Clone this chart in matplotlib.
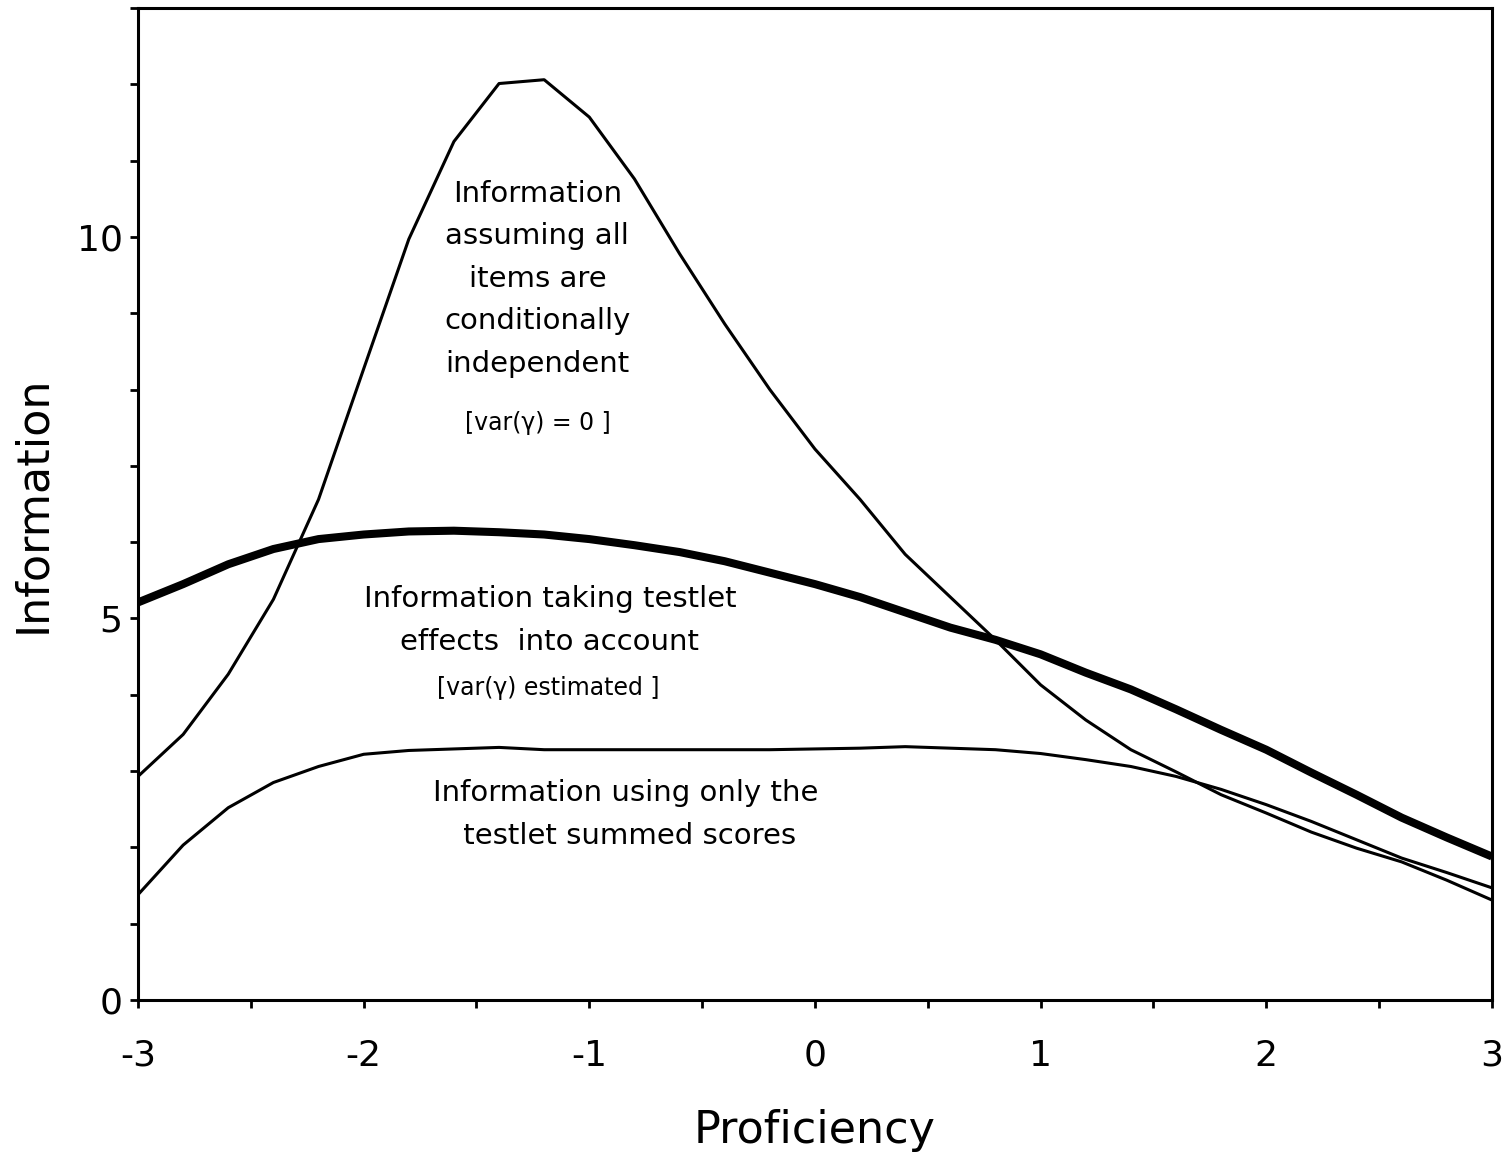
import numpy as np
import matplotlib.pyplot as plt
from matplotlib.ticker import MultipleLocator

plt.rcParams['axes.unicode_minus'] = False

# proficiency grid (step 0.2)
theta = [-3.0, -2.8, -2.6, -2.4, -2.2, -2.0, -1.8, -1.6, -1.4, -1.2, -1.0,
         -0.8, -0.6, -0.4, -0.2, 0.0, 0.2, 0.4, 0.6, 0.8, 1.0,
         1.2, 1.4, 1.6, 1.8, 2.0, 2.2, 2.4, 2.6, 2.8, 3.0]

# information assuming conditional independence, var(gamma)=0
info_indep = [2.93, 3.48, 4.27, 5.25, 6.56, 8.27, 9.97, 11.25, 12.01, 12.06, 11.57,
              10.76, 9.78, 8.86, 8.00, 7.22, 6.56, 5.84, 5.28, 4.72, 4.13,
              3.67, 3.28, 2.99, 2.69, 2.45, 2.20, 1.99, 1.81, 1.57, 1.31]

# information taking testlet effects into account
info_testlet = [5.21, 5.45, 5.71, 5.91, 6.04, 6.10, 6.14, 6.15, 6.13, 6.10, 6.04,
                5.96, 5.87, 5.75, 5.60, 5.45, 5.28, 5.08, 4.88, 4.72, 4.53,
                4.29, 4.07, 3.81, 3.54, 3.28, 2.98, 2.69, 2.39, 2.13, 1.88]

# information from testlet summed scores only
info_summed = [1.38, 2.03, 2.52, 2.85, 3.06, 3.22, 3.27, 3.29, 3.31, 3.28, 3.28,
               3.28, 3.28, 3.28, 3.28, 3.29, 3.30, 3.32, 3.30, 3.28, 3.23,
               3.15, 3.06, 2.93, 2.76, 2.56, 2.34, 2.10, 1.86, 1.67, 1.47]

fig = plt.figure(figsize=(15.1, 11.57), dpi=100)
ax = fig.add_axes([0.0914, 0.1357, 0.8966, 0.8574])

ax.plot(theta, info_indep, color='black', lw=2.2)
ax.plot(theta, info_summed, color='black', lw=2.2)
ax.plot(theta, info_testlet, color='black', lw=5.8, solid_capstyle='butt')

ax.set_xlim(-3, 3)
ax.set_ylim(0, 13)
ax.set_xticks([-3, -2, -1, 0, 1, 2, 3])
ax.xaxis.set_minor_locator(MultipleLocator(0.5))
ax.set_yticks([0, 5, 10])
ax.yaxis.set_minor_locator(MultipleLocator(1))
ax.tick_params(which='both', direction='out', length=6, width=2, labelsize=26)
ax.tick_params(axis='x', pad=22)
ax.tick_params(axis='y', pad=5)

for s in ax.spines.values():
    s.set_linewidth(2.2)

ax.set_xlabel('Proficiency', fontsize=32, labelpad=26)
ax.set_ylabel('Information', fontsize=32, labelpad=16)

ax.text(-1.23, 9.45, 'Information\nassuming all\nitems are\nconditionally\nindependent',
        ha='center', va='center', fontsize=21, linespacing=1.66)
ax.text(-1.23, 7.56, '[var(\u03b3) = 0 ]', ha='center', va='center', fontsize=17)
ax.text(-1.175, 4.97, 'Information taking testlet\neffects  into account',
        ha='center', va='center', fontsize=21, linespacing=1.66)
ax.text(-1.18, 4.09, '[var(\u03b3) estimated ]', ha='center', va='center', fontsize=17)
ax.text(-0.84, 2.43, 'Information using only the\n testlet summed scores',
        ha='center', va='center', fontsize=21, linespacing=1.66)

fig.savefig('out.png', dpi=100)
